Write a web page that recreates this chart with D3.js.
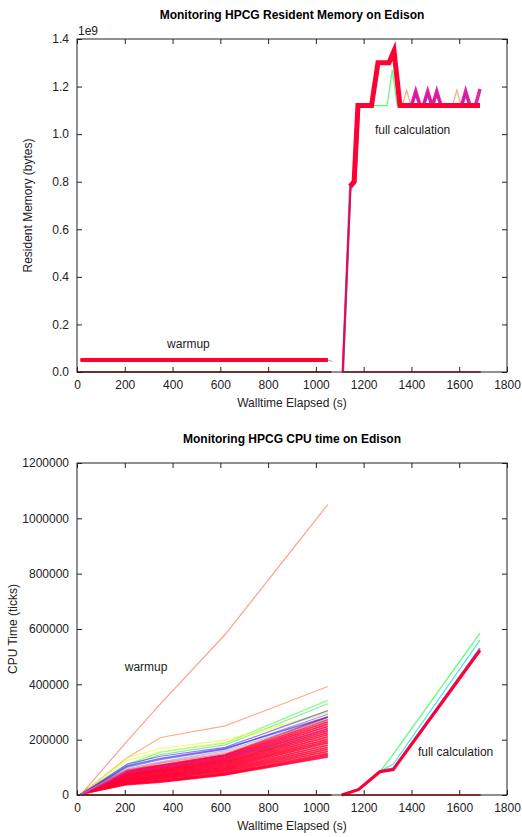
<!DOCTYPE html>
<html>
<head>
<meta charset="utf-8">
<script src="https://cdn.jsdelivr.net/npm/d3@7"></script>
<style>
  body { margin: 0; background: #fff; }
  svg { font-family: "Liberation Sans", Arial, Helvetica, sans-serif; }
  .tick text { font-size: 12px; fill: #222; }
</style>
</head>
<body>
<div id="chart"></div>
<script>
// ---- data -----
var timeTicks = [0, 200, 400, 600, 800, 1000, 1200, 1400, 1600, 1800];
var memTicks = [0, 0.2, 0.4, 0.6, 0.8, 1.0, 1.2, 1.4];          // x 1e9 bytes
var cpuTicks = [0, 200, 400, 600, 800, 1000, 1200];              // x 1000 ticks

// resident memory, warmup phase (1e9 bytes)
var memWarmTime = [15, 1050];
var memWarmA = [0.046, 0.046];
var memWarmB = [0.049, 0.049];
var memWarmC = [0.052, 0.052];
var memWarmD = [0.055, 0.055];
var memWarmTail = [[1050, 0.05], [1070, 0.044]];
var memZeroA = [[0, 0], [1065, 0]];
var memZeroB = [[1110, 0], [1690, 0]];

// resident memory, full calculation phase [time, 1e9 bytes]
var memRedRise = [[1112,0],[1145,0.78]];
var memOrange = [[1114,0],[1146,0.77],[1163,0.79],[1179,1.12],[1233,1.12],[1260,1.30],[1306,1.30],[1327,1.34],[1352,1.12],[1362,1.12],[1380,1.185],[1398,1.12],[1572,1.12],[1590,1.185],[1608,1.12],[1687,1.12]];
var memGreen = [[1112,0],[1143,0.76],[1160,0.79],[1176,1.12],[1298,1.12],[1320,1.27],[1340,1.12],[1488,1.12],[1506,1.175],[1524,1.12],[1687,1.12]];
var memBlue = [[1113,0],[1144,0.78],[1161,0.80],[1177,1.12],[1233,1.12],[1260,1.30],[1306,1.30],[1327,1.34],[1352,1.12],[1400,1.12],[1418,1.17],[1436,1.12],[1450,1.12],[1468,1.17],[1486,1.12],[1488,1.12],[1506,1.17],[1524,1.12],[1610,1.12],[1627,1.17],[1645,1.12],[1687,1.12]];
var memMagenta = [[1145,0.78],[1162,0.80],[1178,1.12],[1233,1.12],[1260,1.30],[1306,1.30],[1327,1.345],[1352,1.12],[1400,1.12],[1418,1.18],[1436,1.12],[1450,1.12],[1468,1.18],[1486,1.12],[1488,1.12],[1506,1.18],[1524,1.12],[1610,1.12],[1627,1.18],[1645,1.12],[1668,1.12],[1687,1.19]];
var memRed = [[1143,0.78],[1160,0.80],[1176,1.12],[1233,1.12],[1260,1.30],[1306,1.30],[1327,1.35],[1352,1.12],[1687,1.12]];

// cpu time, warmup phase (1000 ticks)
var cpuWarmTime = [15, 40, 210, 350, 620, 1050];
var cpuOrangeTop = [0, 25, 195, 330, 580, 1050];
var cpuOrange = [0, 18, 135, 208, 250, 392];
var cpuGreenA = [0, 15, 110, 155, 188, 342];
var cpuGreenB = [0, 14, 105, 146, 181, 330];
var cpuYellowA = [0, 18, 135, 168, 198, 300];
var cpuYellowB = [0, 16, 125, 156, 190, 296];
var cpuBlueA = [0, 15, 112, 140, 172, 305];
var cpuBlueB = [0, 14, 100, 128, 165, 292];
var cpuPurple = [0, 13, 105, 132, 168, 282];
var cpuCyan = [0, 12, 95, 120, 160, 275];
var cpuSalmon = [0, 12, 92, 118, 155, 270];
var cpuPink = [0, 12, 88, 115, 150, 262];
var cpuMagenta = [0, 11, 80, 100, 135, 235];
var cpuLightBlue = [0, 8, 40, 50, 78, 140];
var cpuRed = [
  [0, 18, 90, 108, 145, 282],
  [0, 17, 87, 104, 142, 272],
  [0, 17, 84, 101, 138, 264],
  [0, 16, 81, 97, 134, 256],
  [0, 16, 78, 94, 130, 248],
  [0, 15, 75, 91, 126, 240],
  [0, 15, 72, 88, 122, 232],
  [0, 14, 69, 85, 118, 225],
  [0, 14, 66, 82, 114, 218],
  [0, 13, 63, 78, 110, 210],
  [0, 13, 60, 75, 106, 202],
  [0, 12, 57, 72, 102, 195],
  [0, 12, 55, 69, 98, 188],
  [0, 11, 52, 66, 94, 180],
  [0, 11, 50, 63, 90, 172],
  [0, 10, 47, 60, 86, 165],
  [0, 10, 45, 56, 82, 158],
  [0, 9, 42, 52, 78, 150],
  [0, 9, 40, 49, 75, 144],
  [0, 8, 38, 47, 73, 138]
];

// cpu time, full calculation phase (1000 ticks)
var cpuFullTime = [1108, 1178, 1268, 1324, 1687];
var cpuFullGreen = [0, 20, 84, 148, 585];
var cpuFullCyan = [0, 20, 85, 112, 560];
var cpuFullBlue = [0, 21, 87, 96, 530];
var cpuFullRed = [0, 19, 84, 92, 523];
var cpuZeroA = [[0, 0], [1065, 0]];
var cpuZeroB = [[1110, 0], [1690, 0]];

// ---- layout ----
var W = 522, H = 837;
var left = 77, right = 507;
var svg = d3.select("#chart").append("svg").attr("width", W).attr("height", H);

var x = d3.scaleLinear().domain([0, 1800]).range([left, right]);
var yMem = d3.scaleLinear().domain([0, 1.4]).range([372, 39]);
var yCpu = d3.scaleLinear().domain([0, 1200]).range([795, 463]);

function zip(xs, ys) {
    return xs.map(function(t, i){ return [t, ys[i]]; });
}

function drawPanel(y, ticksY, fmt, title, ylabel, ylabelX) {
    var g = svg.append("g");
    var top = y.range()[1], bottom = y.range()[0];

    g.append("g").attr("transform", "translate(0," + bottom + ")")
        .call(d3.axisBottom(x).tickValues(timeTicks).tickSizeInner(-5).tickSizeOuter(0).tickPadding(8).tickFormat(d3.format("d")));
    g.append("g").attr("transform", "translate(0," + top + ")")
        .call(d3.axisTop(x).tickValues(timeTicks).tickSizeInner(-5).tickSizeOuter(0).tickFormat(""));
    g.append("g").attr("transform", "translate(" + left + ",0)")
        .call(d3.axisLeft(y).tickValues(ticksY).tickSizeInner(-5).tickSizeOuter(0).tickPadding(8).tickFormat(fmt));
    g.append("g").attr("transform", "translate(" + right + ",0)")
        .call(d3.axisRight(y).tickValues(ticksY).tickSizeInner(-5).tickSizeOuter(0).tickFormat(""));
    g.selectAll(".domain").remove();
    g.selectAll(".tick line").attr("stroke", "#222");

    svg.append("text").attr("x", (left + right) / 2).attr("y", top - 20)
        .attr("text-anchor", "middle").attr("font-size", 12).attr("font-weight", "bold")
        .text(title);
    svg.append("text").attr("x", (left + right) / 2).attr("y", bottom + 35)
        .attr("text-anchor", "middle").attr("font-size", 12).attr("fill", "#222")
        .text("Walltime Elapsed (s)");
    svg.append("text")
        .attr("transform", "translate(" + ylabelX + "," + ((top + bottom) / 2) + ") rotate(-90)")
        .attr("text-anchor", "middle").attr("font-size", 12).attr("fill", "#222")
        .text(ylabel);

    var plot = svg.append("g");
    return plot;
}

function addLine(plot, y, pts, color, width, opacity) {
    var line = d3.line().x(function(d){ return x(d[0]); }).y(function(d){ return y(d[1]); });
    plot.append("path").datum(pts)
        .attr("d", line)
        .attr("fill", "none")
        .attr("stroke", color)
        .attr("stroke-width", width)
        .attr("stroke-opacity", opacity)
        .attr("stroke-linejoin", "miter");
}

function frame(y) {
    svg.append("rect").attr("x", left).attr("y", y.range()[1])
        .attr("width", right - left).attr("height", y.range()[0] - y.range()[1])
        .attr("fill", "none").attr("stroke", "#222").attr("stroke-width", 1);
}

// ---- top: resident memory ----
var memPlot = drawPanel(yMem, memTicks, d3.format(".1f"),
    "Monitoring HPCG Resident Memory on Edison", "Resident Memory (bytes)", 32);
svg.append("text").attr("x", left + 1).attr("y", 35).attr("font-size", 12).attr("fill", "#222").text("1e9");

addLine(memPlot, yMem, memZeroA, "#8b0000", 1.5, 1);
addLine(memPlot, yMem, memZeroB, "#cc0000", 1.5, 1);
[memWarmA, memWarmB, memWarmC, memWarmD].forEach(function(s){
    addLine(memPlot, yMem, zip(memWarmTime, s), "#ff0030", 2, 1);
});
addLine(memPlot, yMem, memWarmTail, "#7070ff", 1, 0.7);
addLine(memPlot, yMem, memOrange, "#ff9060", 1.2, 0.8);
addLine(memPlot, yMem, memGreen, "#40ff60", 1.2, 0.9);
addLine(memPlot, yMem, memBlue, "#5050ff", 2.5, 0.8);
addLine(memPlot, yMem, memMagenta, "#e0109a", 3.5, 0.9);
addLine(memPlot, yMem, memRedRise, "#ff0033", 1.8, 1);
addLine(memPlot, yMem, memRed, "#ff0033", 5, 1);

memPlot.append("text").attr("x", x(377)).attr("y", yMem(0.1)).attr("font-size", 12).attr("fill", "#222").text("warmup");
memPlot.append("text").attr("x", x(1247)).attr("y", yMem(1.0)).attr("font-size", 12).attr("fill", "#222").text("full calculation");
frame(yMem);

// ---- bottom: cpu time ----
var cpuPlot = drawPanel(yCpu, cpuTicks, function(d){ return d3.format("d")(d * 1000); },
    "Monitoring HPCG CPU time on Edison", "CPU Time (ticks)", 17);

addLine(cpuPlot, yCpu, cpuZeroA, "#8b0000", 1.5, 1);
addLine(cpuPlot, yCpu, cpuZeroB, "#cc0000", 1.5, 1);

// the lowest line sits under the red mass
addLine(cpuPlot, yCpu, zip(cpuWarmTime, cpuLightBlue), "#8080ff", 1.2, 0.6);

cpuRed.forEach(function(s){
    addLine(cpuPlot, yCpu, zip(cpuWarmTime, s), "#ff0033", 1.8, 0.85);
});

var warmSeries = [
    [cpuOrangeTop, "#ff6040", 1.2, 0.6],
    [cpuOrange, "#ff7a30", 1.2, 0.6],
    [cpuGreenA, "#40ff40", 1.2, 0.6],
    [cpuGreenB, "#40e060", 1.2, 0.6],
    [cpuYellowA, "#d8ff20", 1.2, 0.6],
    [cpuYellowB, "#f0f040", 1.2, 0.6],
    [cpuBlueA, "#3030ff", 1.2, 0.6],
    [cpuBlueB, "#5050ff", 1.2, 0.6],
    [cpuPurple, "#7020e0", 1.5, 0.7],
    [cpuCyan, "#40c0d0", 1.2, 0.6],
    [cpuSalmon, "#ff9080", 1.2, 0.6],
    [cpuPink, "#ff40a0", 1.2, 0.6],
    [cpuMagenta, "#c020d0", 1.2, 0.6]
];
warmSeries.forEach(function(s){
    addLine(cpuPlot, yCpu, zip(cpuWarmTime, s[0]), s[1], s[2], s[3]);
});

addLine(cpuPlot, yCpu, zip(cpuFullTime, cpuFullGreen), "#40ff60", 1.2, 0.9);
addLine(cpuPlot, yCpu, zip(cpuFullTime, cpuFullCyan), "#40e0d0", 1.2, 0.9);
addLine(cpuPlot, yCpu, zip(cpuFullTime, cpuFullBlue), "#5050ff", 2, 0.8);
addLine(cpuPlot, yCpu, zip(cpuFullTime, cpuFullRed), "#ff0033", 3, 1);

cpuPlot.append("text").attr("x", x(200)).attr("y", yCpu(450)).attr("font-size", 12).attr("fill", "#222").text("warmup");
cpuPlot.append("text").attr("x", x(1427)).attr("y", yCpu(140)).attr("font-size", 12).attr("fill", "#222").text("full calculation");
frame(yCpu);
</script>
</body>
</html>
